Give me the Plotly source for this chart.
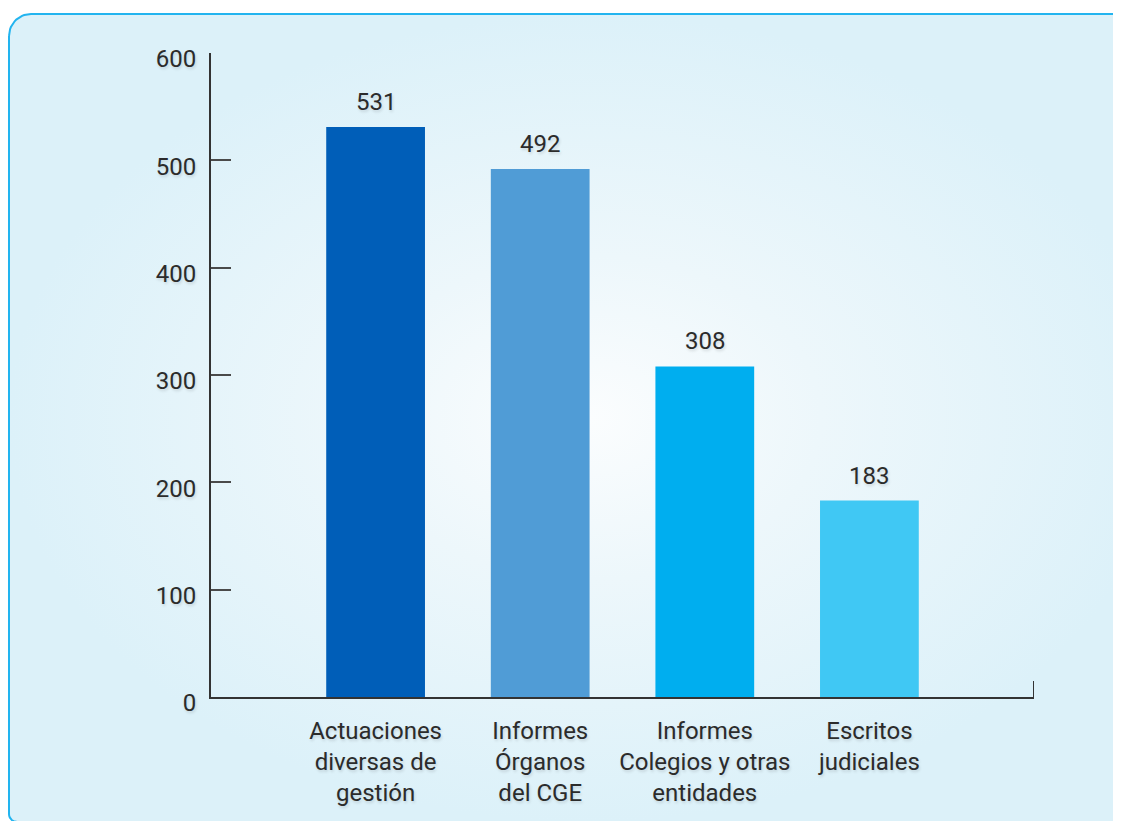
import plotly.graph_objects as go
import numpy as np

categories = ["Actuaciones<br>diversas de<br>gestión",
              "Informes<br>Órganos<br>del CGE",
              "Informes<br>Colegios y otras<br>entidades",
              "Escritos<br>judiciales"]
values = [531, 492, 308, 183]
bar_colors = ["#005EB8", "#509CD6", "#00AEEF", "#40C8F4"]
y_ticks = [0, 100, 200, 300, 400, 500, 600]

W, H = 1121, 821
TEXT = "#2B2B2B"
FONT = "Roboto"
FS = 24
SHADOW = "1px 2px 3px rgba(0,0,0,0.13)"

fig = go.Figure()

# ---- background panel (rounded rectangle with radial gradient), figure pixel coords
L, T, R, B = 1.0, 6.0, 1160.0, 814.0
r_tl, r_bl = 22.0, 8.0
a1 = np.linspace(np.pi, 1.5 * np.pi, 16)          # top-left corner
a2 = np.linspace(0.5 * np.pi, np.pi, 8)            # bottom-left corner
px = list(L + r_tl + r_tl * np.cos(a1)) + [R, R] + list(L + r_bl + r_bl * np.cos(a2))
py = list(T + r_tl + r_tl * np.sin(a1)) + [T, B] + list(B - r_bl + r_bl * np.sin(a2))
px.append(px[0])
py.append(py[0])
fig.add_trace(go.Scatter(
    x=px, y=py, mode="lines", fill="toself",
    line=dict(color="#22B4EF", width=2),
    fillgradient=dict(type="radial",
                      colorscale=[[0, "#FBFDFE"], [0.4, "#EDF7FB"], [1, "#DCF1F9"]]),
    hoverinfo="skip", showlegend=False, xaxis="x", yaxis="y"))

# ---- bars
fig.add_trace(go.Bar(
    x=categories, y=values, marker=dict(color=bar_colors, line=dict(width=0)),
    width=0.6, hoverinfo="skip", showlegend=False, xaxis="x2", yaxis="y2"))

for c, v in zip(categories, values):
    fig.add_annotation(x=c, y=v, xref="x2", yref="y2", text=str(v),
                       showarrow=False, yanchor="bottom", yshift=9,
                       font=dict(family=FONT, size=FS, color=TEXT, shadow=SHADOW))

# small upward tick closing the x axis on the right
fig.add_shape(type="line", xref="x2", yref="y2", x0=4, x1=4,
              ysizemode="pixel", yanchor=0, y0=0, y1=16,
              line=dict(color="#333333", width=2))

fig.update_layout(
    width=W, height=H, autosize=False,
    margin=dict(l=0, r=0, t=0, b=0, autoexpand=False),
    paper_bgcolor="white", plot_bgcolor="rgba(0,0,0,0)",
    font=dict(family=FONT, size=FS, color=TEXT),
    xaxis=dict(domain=[0, 1], range=[0, W], visible=False, fixedrange=True,
               automargin=False),
    yaxis=dict(domain=[0, 1], range=[H, 0], visible=False, fixedrange=True,
               automargin=False),
    xaxis2=dict(domain=[203 / W, 1026 / W], anchor="y2", range=[-1, 4],
                showline=True, linecolor="#333333", linewidth=2,
                ticks="", showgrid=False, zeroline=False, automargin=False,
                tickfont=dict(family=FONT, size=FS, color=TEXT, shadow=SHADOW),
                ticklabelstandoff=11),
    yaxis2=dict(domain=[1 - 689 / H, 1 - 45 / H], anchor="x2", range=[0, 600],
                tickvals=y_ticks, showline=True, linecolor="#333333", linewidth=2,
                ticks="inside", ticklen=20, tickwidth=1.5, tickcolor="#4A4A4A",
                showgrid=False, zeroline=False, automargin=False,
                ticklabelstandoff=8, ticklabelshift=6,
                tickfont=dict(family=FONT, size=FS, color=TEXT, shadow=SHADOW)),
)

fig.write_html("out.html")
